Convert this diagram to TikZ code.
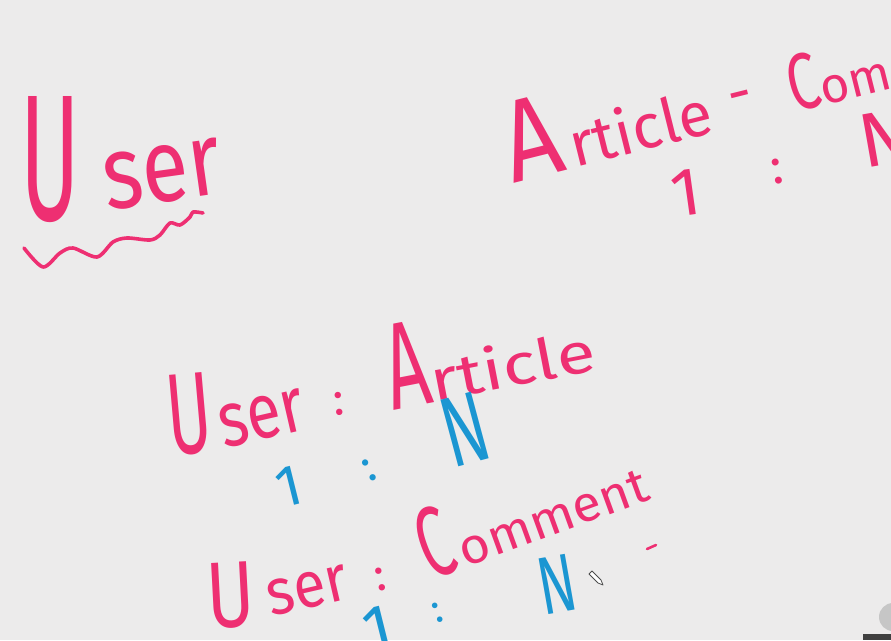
\documentclass[tikz,border=0pt]{standalone}
\usepackage{fontspec}
\usepackage{graphicx}
\newfontfamily\hand{Fira Sans}
\newcommand{\hsz}[1]{\fontsize{#1}{#1}\selectfont}
\definecolor{inkpink}{HTML}{EE2F72}
\definecolor{inkblue}{HTML}{1B96D2}
\definecolor{board}{HTML}{ECEBEB}
\tikzset{
  ink/.style={font=\hand, text=inkpink, inner sep=0pt, outer sep=0pt},
  blueink/.style={ink, text=inkblue},
  stroke/.style={draw=inkpink, line width=3.6pt, line cap=round, line join=round},
}
\begin{document}
\begin{tikzpicture}[x=1pt,y=-1pt]
\useasboundingbox (0,0) rectangle (891,640);
\fill[board] (0,0) rectangle (891,640);
\clip (0,0) rectangle (891,640);

% top-left heading
\node[ink, anchor=base west] (userA) at (20,220)
  {\scalebox{0.5}[1]{\hsz{180}U}\hspace{20pt}\raisebox{10pt}{\rotatebox{8}{\scalebox{0.82}[1]{\hsz{104}ser}}}};
\draw[stroke] plot[smooth] coordinates {(24,248) (43,267) (60,253) (73,248) (97,257) (113,242) (127,238) (150,240) (160,235) (170,223) (180,225) (190,217) (193,212) (203,213)};

% top-right
\node[ink, anchor=base west, rotate=14] (artA) at (513,183)
  {\scalebox{0.85}[1]{\hsz{116}A}\hspace{8pt}{\hsz{62}rticle}\hspace{20pt}\raisebox{12pt}{\hsz{60}-}\hspace{36pt}\scalebox{0.7}[1]{\hsz{80}C}{\hsz{50}omment}};
\node[ink, anchor=base, rotate=8] (r1a) at (689,215) {\hsz{68}1};
\node[ink, anchor=base, rotate=10] (r1b) at (779,183) {\hsz{50}:};
\node[ink, anchor=base west, rotate=10] (r1c) at (864,168) {\hsz{77}N};

% middle
\node[ink, anchor=base west, rotate=5] (userB) at (170,455)
  {\scalebox{0.58}[1]{\hsz{116}U}\hspace{4pt}\raisebox{2pt}{\rotatebox{8}{\scalebox{0.8}[1]{\hsz{78}ser}}}};
\node[ink, anchor=base, rotate=5] (colB) at (340,415) {\hsz{46}:};
\node[ink, anchor=base west, rotate=11] (artB) at (393,410)
  {\scalebox{0.6}[1]{\hsz{123}A}\scalebox{1.25}[1]{\hsz{57}rticle}};
\node[blueink, anchor=base, rotate=14] (b1a) at (294,505) {\hsz{58}1};
\node[blueink, anchor=base, rotate=27] (b1b) at (374,480) {\hsz{45}:};
\node[blueink, anchor=base, rotate=15] (b1c) at (474,463) {\scalebox{0.65}[1]{\hsz{100}N}};

% bottom
\node[ink, anchor=base west, rotate=3] (userC) at (208,628)
  {\scalebox{0.77}[1]{\hsz{94}U}\hspace{10pt}\raisebox{8pt}{\rotatebox{10}{\scalebox{0.9}[1]{\hsz{65}ser}}}};
\node[ink, anchor=base, rotate=12] (colC) at (383,590) {\hsz{46}:};
\node[ink, anchor=base west, rotate=20] (comC) at (430,580)
  {\scalebox{0.6}[1]{\hsz{100}C}\hspace{4pt}\scalebox{1.05}[1]{\hsz{50}omment}};
\node[blueink, anchor=base, rotate=14] (b2a) at (383,650) {\hsz{65}1};
\node[blueink, anchor=base, rotate=20] (b2b) at (441,622) {\hsz{40}:};
\node[blueink, anchor=base, rotate=10] (b2c) at (562,612) {\scalebox{0.67}[1]{\hsz{82}N}};
\draw[stroke, line width=2.6pt] (647,549) -- (656,545);

% cursor
\draw[black!70, line width=0.8pt, fill=white, line join=round]
  (589,574) -- (592,571) -- (601,580) -- (603,585) -- (598,583) -- cycle;
% webcam corner
\fill[gray!45] (893,617) circle (14);
\fill[black!75] (863,634) rectangle (891,640);
\end{tikzpicture}
\end{document}
